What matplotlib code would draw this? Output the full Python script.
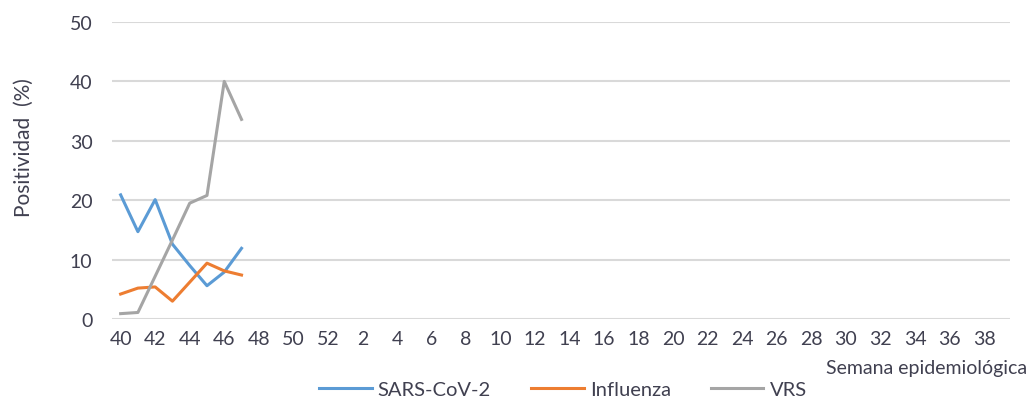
import matplotlib
matplotlib.use("Agg")
import matplotlib.pyplot as plt

# semanas epidemiológicas 40..52 y 1..39
semanas = list(range(40, 53)) + list(range(1, 40))

sars_cov2 = [20.9, 14.7, 20.1, 12.6, 9.0, 5.6, 7.9, 11.9]
influenza = [4.2, 5.2, 5.4, 3.0, 6.2, 9.4, 8.1, 7.4]
vrs = [0.9, 1.1, 7.2, 13.3, 19.5, 20.8, 40.0, 33.6]

plt.rcParams['font.family'] = ['Lato', 'DejaVu Sans']
txt = '#404050'

fig = plt.figure(figsize=(10.29, 4.02), dpi=100)
ax = fig.add_axes([112 / 1029, 82 / 402, 898 / 1029, 297 / 402])

x = list(range(len(semanas)))
ax.plot(x[:len(sars_cov2)], sars_cov2, color='#5b9bd5', lw=2.2, label='SARS-CoV-2')
ax.plot(x[:len(influenza)], influenza, color='#ed7d31', lw=2.2, label='Influenza')
ax.plot(x[:len(vrs)], vrs, color='#a5a5a5', lw=2.2, label='VRS')

ax.set_xlim(-0.5, len(semanas) - 0.5)
ax.set_ylim(0, 50)
ax.set_yticks(range(0, 51, 10))
ax.set_xticks(x[::2])
ax.set_xticklabels([str(s) for s in semanas[::2]])
ax.tick_params(length=0, labelsize=14, labelcolor=txt, pad=8)
ax.tick_params(axis='y', pad=14)
ax.grid(axis='y', color='#d9d9d9', lw=1.5)
ax.set_axisbelow(True)
for s in ax.spines.values():
    s.set_visible(False)

# títulos de ejes como en el original (posición libre)
fig.text(24 / 1029, 1 - 148 / 402, 'Positividad  (%)', fontsize=15, color=txt,
         rotation=90, ha='center', va='center')
fig.text(1027 / 1029, 1 - 369 / 402, 'Semana epidemiológica', fontsize=14, color=txt,
         ha='right', va='center')

fig.legend(loc='center', bbox_to_anchor=(563 / 1029, 1 - 390 / 402), ncol=3,
           frameon=False, fontsize=14.5, labelcolor=txt, handlelength=2.6,
           columnspacing=2.0, handletextpad=0.3)

fig.savefig('out.png', dpi=100)
